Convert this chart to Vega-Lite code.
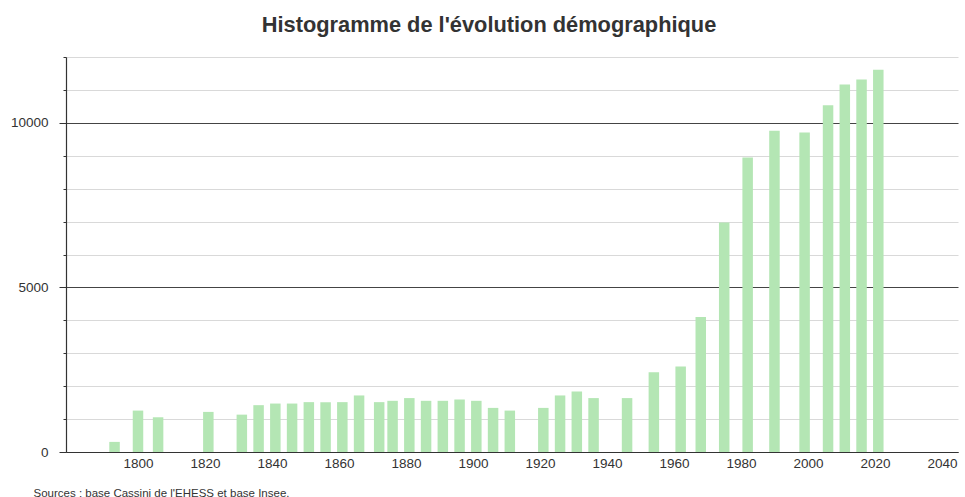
{
  "$schema": "https://vega.github.io/schema/vega-lite/v6.json",
  "width": 892,
  "height": 395,
  "autosize": "none",
  "padding": {"left": 66, "top": 57, "right": 7, "bottom": 45},
  "background": "white",
  "config": {"view": {"stroke": null}, "font": "Liberation Sans"},
  "title": {
    "text": "Histogramme de l'évolution démographique",
    "font": "Liberation Sans",
    "fontSize": 21.8,
    "fontWeight": "bold",
    "color": "#333333",
    "anchor": "middle",
    "frame": "group",
    "dx": -23,
    "offset": 20
  },
  "data": {
    "values": [
      {"annee": 1793, "population": 307},
      {"annee": 1800, "population": 1258},
      {"annee": 1806, "population": 1055},
      {"annee": 1821, "population": 1218},
      {"annee": 1831, "population": 1135},
      {"annee": 1836, "population": 1423},
      {"annee": 1841, "population": 1472},
      {"annee": 1846, "population": 1472},
      {"annee": 1851, "population": 1515},
      {"annee": 1856, "population": 1515},
      {"annee": 1861, "population": 1515},
      {"annee": 1866, "population": 1718},
      {"annee": 1872, "population": 1515},
      {"annee": 1876, "population": 1555},
      {"annee": 1881, "population": 1638},
      {"annee": 1886, "population": 1555},
      {"annee": 1891, "population": 1555},
      {"annee": 1896, "population": 1595},
      {"annee": 1901, "population": 1555},
      {"annee": 1906, "population": 1340},
      {"annee": 1911, "population": 1258},
      {"annee": 1921, "population": 1340},
      {"annee": 1926, "population": 1718},
      {"annee": 1931, "population": 1840},
      {"annee": 1936, "population": 1638},
      {"annee": 1946, "population": 1638},
      {"annee": 1954, "population": 2423},
      {"annee": 1962, "population": 2598},
      {"annee": 1968, "population": 4100},
      {"annee": 1975, "population": 6975},
      {"annee": 1982, "population": 8945},
      {"annee": 1990, "population": 9760},
      {"annee": 1999, "population": 9708},
      {"annee": 2006, "population": 10537},
      {"annee": 2011, "population": 11166},
      {"annee": 2016, "population": 11318},
      {"annee": 2021, "population": 11612}
    ]
  },
  "mark": {"type": "bar", "width": 10.5, "color": "#b4e6b4"},
  "encoding": {
    "x": {
      "field": "annee",
      "type": "quantitative",
      "scale": {"domain": [1780, 2043.3], "nice": false, "zero": false},
      "axis": {
        "values": [1800, 1820, 1840, 1860, 1880, 1900, 1920, 1940, 1960, 1980, 2000, 2020, 2040],
        "format": "d",
        "grid": false,
        "ticks": false,
        "domainColor": "#333333",
        "domainWidth": 1.2,
        "labelFont": "Liberation Sans",
        "labelFontSize": 13.5,
        "labelColor": "#333333",
        "labelPadding": 4,
        "labelFlush": false,
        "title": "Sources : base Cassini de l'EHESS et base Insee.",
        "titleFont": "Liberation Sans",
        "titleFontSize": 11.5,
        "titleFontWeight": "normal",
        "titleColor": "#333333",
        "titleAnchor": "start",
        "titleAlign": "left",
        "titleBaseline": "alphabetic",
        "titleX": -33,
        "titleY": 44
      }
    },
    "y": {
      "field": "population",
      "type": "quantitative",
      "scale": {"domain": [0, 12000], "nice": false},
      "axis": {
        "values": [0, 1000, 2000, 3000, 4000, 5000, 6000, 7000, 8000, 9000, 10000, 11000, 12000],
        "labelExpr": "datum.value % 5000 === 0 ? format(datum.value, 'd') : ''",
        "grid": true,
        "gridColor": {"condition": {"test": "datum.value % 5000 === 0", "value": "#444444"}, "value": "#d9d9d9"},
        "gridWidth": {"condition": {"test": "datum.value % 5000 === 0", "value": 1.2}, "value": 1},
        "tickSize": {"condition": {"test": "datum.value % 5000 === 0", "value": 7}, "value": 3},
        "tickColor": "#333333",
        "domainColor": "#333333",
        "domainWidth": 1.2,
        "labelFont": "Liberation Sans",
        "labelFontSize": 13.5,
        "labelColor": "#333333",
        "labelPadding": 11,
        "title": null
      }
    }
  }
}
